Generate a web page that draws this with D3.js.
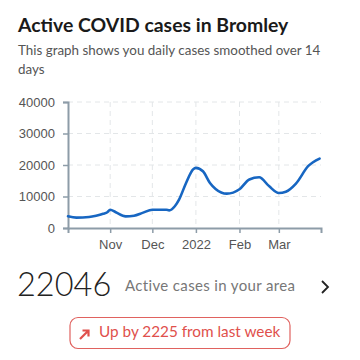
<!DOCTYPE html>
<html><head><meta charset="utf-8">
<script src="https://cdn.jsdelivr.net/npm/d3@7"></script>
<style>
html,body{margin:0;padding:0;background:#fff;}
svg{display:block;}
</style></head>
<body>
<svg id="c" width="360" height="360"></svg>
<script>
const title = "Active COVID cases in Bromley";
const subtitleLines = ["This graph shows you daily cases smoothed over 14", "days"];
const dates = ["2021-10-02","2021-10-08","2021-10-17","2021-10-22","2021-10-27","2021-10-30","2021-11-01","2021-11-05","2021-11-12","2021-11-18","2021-11-24","2021-12-01","2021-12-11","2021-12-13","2021-12-17","2021-12-20","2021-12-25","2021-12-30","2022-01-01","2022-01-06","2022-01-11","2022-01-15","2022-01-23","2022-02-01","2022-02-08","2022-02-15","2022-02-22","2022-03-01","2022-03-06","2022-03-13","2022-03-22","2022-03-30"];
const cases = [3700,3300,3500,3900,4500,5000,5800,5000,3700,3900,4800,5800,5800,5600,6900,9000,14300,18600,19100,18000,14300,12400,10900,12300,15400,16100,13300,11100,11500,14000,19700,22046];
const yTicks = [0,10000,20000,30000,40000];
const xTickDates = ["2021-11-01","2021-12-01","2022-01-01","2022-02-01","2022-03-01"];
const xTickLabels = ["Nov","Dec","2022","Feb","Mar"];
const currentValue = "22046";
const currentLabel = "Active cases in your area";
const changeLabel = "Up by 2225 from last week";

const parse = d3.timeParse("%Y-%m-%d");
const data = dates.map((d,i)=>({date:parse(d), value:cases[i]}));
const svg = d3.select("#c");

svg.append("text").attr("x",18).attr("y",32)
  .attr("font-family","Lato, sans-serif").attr("font-weight",700).attr("font-size",19.4)
  .attr("fill","#1a1a1a").text(title);
subtitleLines.forEach((t,i)=>{
  svg.append("text").attr("x",18).attr("y",55+i*19)
    .attr("font-family","Lato, sans-serif").attr("font-size",13.4).attr("fill","#555").text(t);
});

const x = d3.scaleTime().domain([parse("2021-10-02"), parse("2022-03-31")]).range([68,321]);
const y = d3.scaleLinear().domain([0,40000]).range([228,102]);

// grid
const g = svg.append("g");
g.selectAll(".hg").data(yTicks.slice(1)).join("line")
  .attr("x1",68).attr("x2",321).attr("y1",d=>y(d)).attr("y2",d=>y(d))
  .attr("stroke","#e3e6e8").attr("stroke-width",1).attr("stroke-dasharray","5,4");
g.selectAll(".vg").data(xTickDates).join("line")
  .attr("x1",d=>x(parse(d))).attr("x2",d=>x(parse(d))).attr("y1",102).attr("y2",228)
  .attr("stroke","#e3e6e8").attr("stroke-width",1).attr("stroke-dasharray","5,4");

const xAxis = d3.axisBottom(x).tickValues(xTickDates.map(parse))
  .tickFormat((d,i)=>xTickLabels[i]).tickSizeOuter(0).tickSize(5).tickPadding(7);
const yAxis = d3.axisLeft(y).tickValues(yTicks).tickFormat(d3.format("d"))
  .tickSizeOuter(0).tickSize(5).tickPadding(8);

const axColor = "#8d9ca8";
const ax = svg.append("g").attr("transform","translate(0,228)").call(xAxis);
const ay = svg.append("g").attr("transform","translate(68,0)").call(yAxis);
[ax,ay].forEach(a=>{
  a.select(".domain").attr("stroke",axColor).attr("stroke-width",2);
  a.selectAll(".tick line").attr("stroke",axColor).attr("stroke-width",1.5);
  a.selectAll(".tick text").attr("fill","#555").attr("font-size",13)
   .attr("font-family","'Liberation Sans', Arial, sans-serif");
});

const line = d3.line().x(d=>x(d.date)).y(d=>y(d.value)).curve(d3.curveMonotoneX);
svg.append("path").datum(data).attr("d",line).attr("fill","none")
  .attr("stroke","#1766c2").attr("stroke-width",2.6).attr("stroke-linejoin","round").attr("stroke-linecap","round");

// summary
svg.append("text").attr("x",17).attr("y",296).attr("font-family","Lato, sans-serif")
  .attr("font-weight",300).attr("font-size",32.5).attr("fill","#222").text(currentValue);
svg.append("text").attr("x",125).attr("y",291).attr("font-family","Lato, sans-serif")
  .attr("font-size",15).attr("letter-spacing",0.35).attr("fill","#777").text(currentLabel);
svg.append("path").attr("d","M322,281 L328,287 L322,293").attr("fill","none")
  .attr("stroke","#222").attr("stroke-width",1.8);

svg.append("rect").attr("x",70).attr("y",317.5).attr("width",220).attr("height",31).attr("rx",8)
  .attr("fill","#fff").attr("stroke","#e0625f").attr("stroke-width",1.2);
svg.append("path").attr("d","M80,339 L88,331 M82.5,330.5 L88.5,330.5 L88.5,336.5").attr("fill","none")
  .attr("stroke","#e0504c").attr("stroke-width",2.2);
svg.append("text").attr("x",99).attr("y",337).attr("font-family","Lato, sans-serif")
  .attr("font-size",15.3).attr("fill","#e0504c").text(changeLabel);
</script>
</body></html>
